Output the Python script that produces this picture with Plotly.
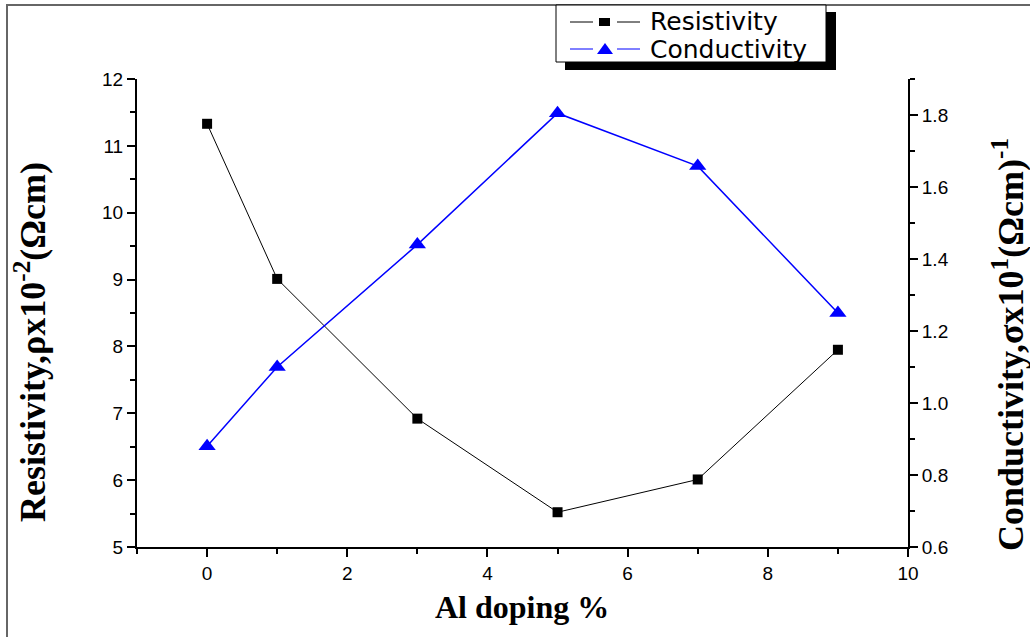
import plotly.graph_objects as go

# ---- data ----
al_doping = [0, 1, 3, 5, 7, 9]
resistivity = [11.33, 9.01, 6.92, 5.52, 6.01, 7.95]
conductivity = [0.88, 1.10, 1.44, 1.805, 1.658, 1.25]
legend_names = ["Resistivity", "Conductivity"]

W, H = 1030, 637
L, R, T, B = 137, 908, 79, 547  # plot area in pixels


def xp(px):
    return (px - L) / (R - L)


def yp(py):
    return (B - py) / (B - T)


fig = go.Figure()
fig.add_trace(go.Scatter(
    x=al_doping, y=resistivity, mode="lines+markers", name=legend_names[0],
    line=dict(color="black", width=1),
    marker=dict(symbol="square", size=10, color="black"),
    xaxis="x", yaxis="y", showlegend=False, cliponaxis=False))
fig.add_trace(go.Scatter(
    x=al_doping, y=conductivity, mode="lines+markers", name=legend_names[1],
    line=dict(color="#0000ff", width=1.5),
    marker=dict(symbol="triangle-up", size=15, color="#0000ff"),
    xaxis="x", yaxis="y2", showlegend=False, cliponaxis=False))

tickfont = dict(family="Liberation Sans, Arial", size=19, color="black")
serif = "Liberation Serif, Times New Roman"

fig.update_layout(
    width=W, height=H,
    margin=dict(l=L, r=W - R, t=T, b=H - B),
    paper_bgcolor="white", plot_bgcolor="white",
    xaxis=dict(range=[-1, 10], dtick=2, tick0=0, showgrid=False, zeroline=False,
               showline=True, linecolor="black", linewidth=2,
               ticks="outside", ticklen=8, tickwidth=2, tickcolor="black",
               minor=dict(dtick=1, tick0=0, ticks="outside", ticklen=5, tickwidth=1.5, tickcolor="black"),
               tickfont=tickfont),
    xaxis2=dict(range=[-1, 10], overlaying="x", side="top", anchor="y", dtick=1, tick0=0,
                showgrid=False, zeroline=False, showline=True, linecolor="black", linewidth=1.5,
                ticks="inside", ticklen=6, tickwidth=1.5, tickcolor="black", showticklabels=False),
    yaxis=dict(range=[5, 12], dtick=1, showgrid=False, zeroline=False,
               showline=True, linecolor="black", linewidth=2,
               ticks="outside", ticklen=8, tickwidth=2, tickcolor="black",
               minor=dict(dtick=0.5, ticks="outside", ticklen=5, tickwidth=1.5, tickcolor="black"),
               tickfont=tickfont),
    yaxis2=dict(range=[0.6, 1.9], dtick=0.2, tick0=0.6, overlaying="y", side="right", anchor="x",
                showgrid=False, zeroline=False, showline=True, linecolor="black", linewidth=2,
                ticks="outside", ticklen=8, tickwidth=2, tickcolor="black",
                minor=dict(dtick=0.1, tick0=0.6, ticks="outside", ticklen=5, tickwidth=1.5, tickcolor="black"),
                tickformat=".1f", tickfont=tickfont),
    showlegend=False,
)

# axis titles
fig.add_annotation(text="<b>Al doping %</b>",
                   x=xp(522), y=yp(607), xref="paper", yref="paper", showarrow=False,
                   xanchor="center", yanchor="middle",
                   font=dict(family=serif, size=32, color="black"))
fig.add_annotation(text="<b>Resistivity,ρx10<sup>-2</sup>(Ωcm)</b>", textangle=-90,
                   x=xp(30), y=yp(342), xref="paper", yref="paper", showarrow=False,
                   xanchor="center", yanchor="middle",
                   font=dict(family=serif, size=36, color="black"))
fig.add_annotation(text="<b>Conductivity,σx10<sup>1</sup>(Ωcm)<sup>-1</sup></b>", textangle=-90,
                   x=xp(1008), y=yp(345), xref="paper", yref="paper", showarrow=False,
                   xanchor="center", yanchor="middle",
                   font=dict(family=serif, size=36, color="black"))

# outer frame (left and top only visible)
fig.add_shape(type="rect", xref="paper", yref="paper",
              x0=xp(7), x1=xp(1045), y0=yp(650), y1=yp(5),
              line=dict(color="#666666", width=2), fillcolor="rgba(0,0,0,0)", layer="above")

# custom legend box with shadow
fig.add_shape(type="rect", xref="paper", yref="paper",
              x0=xp(565), x1=xp(836), y0=yp(70), y1=yp(12),
              line=dict(color="black", width=0), fillcolor="black", layer="above")
fig.add_shape(type="rect", xref="paper", yref="paper",
              x0=xp(556), x1=xp(826), y0=yp(62), y1=yp(5),
              line=dict(color="black", width=1), fillcolor="white", layer="above")

rows = [(22, "black", "square"), (49, "#0000ff", "triangle")]
for (cy, col, sym), name in zip(rows, legend_names):
    for a, b in [(570, 593), (617, 640)]:
        fig.add_shape(type="line", xref="paper", yref="paper",
                      x0=xp(a), x1=xp(b), y0=yp(cy), y1=yp(cy),
                      line=dict(color=col, width=1), layer="above")
    if sym == "square":
        fig.add_shape(type="rect", xref="paper", yref="paper",
                      x0=xp(599), x1=xp(610), y0=yp(cy + 4), y1=yp(cy - 4),
                      line=dict(width=0), fillcolor=col, layer="above")
    else:
        path = "M {} {} L {} {} L {} {} Z".format(xp(597), yp(cy + 5), xp(613), yp(cy + 5), xp(605), yp(cy - 6))
        fig.add_shape(type="path", xref="paper", yref="paper", path=path,
                      line=dict(width=0), fillcolor=col, layer="above")
    fig.add_annotation(text=name, x=xp(648), y=yp(cy), xref="paper", yref="paper",
                       xanchor="left", yanchor="middle", showarrow=False,
                       font=dict(family="DejaVu Sans", size=25, color="black"))

fig.write_html("out.html")
